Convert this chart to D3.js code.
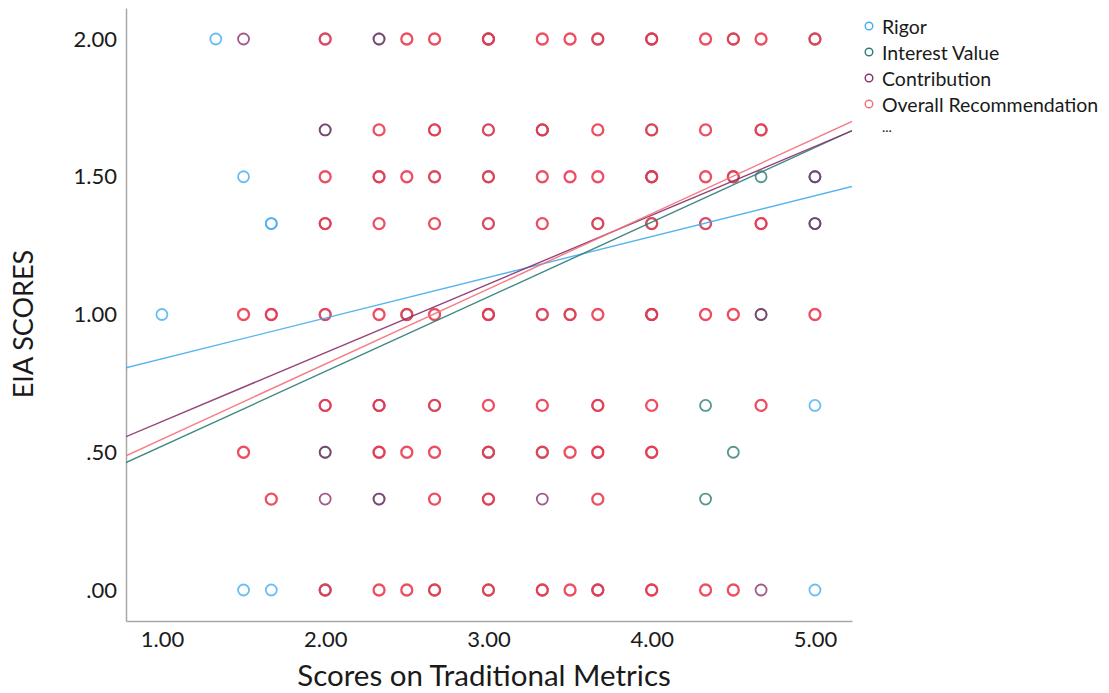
<!DOCTYPE html>
<html>
<head>
<meta charset="utf-8">
<script src="https://cdn.jsdelivr.net/npm/d3@7"></script>
<style>
  body { margin: 0; background: #fff; }
  text { font-family: Lato, "Open Sans", sans-serif; fill: #1a1a1a; }
</style>
</head>
<body>
<div id="container"></div>
<script>
// scatter of EIA scores vs traditional metric scores, one colour per metric,
// with a linear fit line per metric

const seriesNames = ["Rigor", "Interest Value", "Contribution", "Overall Recommendation"]

// [x, y] points
const rigor = [
  [1.33, 2], [1.5, 1.5], [1.67, 1.33], [1.67, 1.33], [1, 1], [5, 0.67], [1.5, 0], [1.67, 0], [5, 0],
  [2, 2], [3, 2], [2.67, 1.5], [3, 1.33], [3.33, 1], [4, 1.5], [2, 1], [3, 0.5],
  [2.33, 0.67], [4, 1], [3.67, 0], [3, 1.67], [4.33, 1.33], [2, 0], [5, 1.5], [5, 1.33]
]
const interest = [
  [4.67, 1.5], [4.33, 0.67], [4.5, 0.5], [4.33, 0.33], [4.67, 1], [5, 1.5], [5, 1.33], [2.33, 2],
  [2, 0.5], [2.33, 0.33], [2, 1.67], [3, 2], [3.67, 2], [4, 2], [4.5, 2], [5, 2], [3.33, 1.67],
  [4, 1.67], [3, 1.5], [4, 1.5], [4.5, 1.5], [3.67, 1.33], [4, 1.33], [2.5, 1], [3, 1], [3.5, 1],
  [4, 1], [2, 0], [2.67, 0.67], [3, 0.5], [2.67, 0], [3.33, 0.5], [3, 0]
]
const contribution = [
  [1.5, 2], [2.33, 2], [2, 1.67], [2, 0.5], [2, 0.33], [2.33, 0.33], [3.33, 0.33], [4.67, 0],
  [5, 1.5], [5, 1.33], [4.67, 1], [2.33, 1.5], [2.67, 1.67], [4.67, 1.67], [4.67, 1.33],
  [2, 1.33], [2, 0.67], [2.33, 0.67], [2.33, 0.5], [3.67, 0.67], [3.67, 0.5], [4, 0.5],
  [3, 0.33], [1.67, 1], [3.33, 0], [3.67, 0], [4, 0], [3, 2], [4, 2], [3.33, 1.67], [4, 1.5], [3, 1], [4, 1]
]
const overall = [
  [2, 2], [2.5, 2], [2.67, 2], [3, 2], [3.33, 2], [3.5, 2], [3.67, 2], [4, 2], [4.33, 2], [4.5, 2], [4.67, 2], [5, 2],
  [2.33, 1.67], [2.67, 1.67], [3, 1.67], [3.33, 1.67], [3.67, 1.67], [4, 1.67], [4.33, 1.67], [4.67, 1.67],
  [2, 1.5], [2.33, 1.5], [2.5, 1.5], [2.67, 1.5], [3, 1.5], [3.33, 1.5], [3.5, 1.5], [3.67, 1.5], [4, 1.5], [4.33, 1.5], [4.5, 1.5],
  [2, 1.33], [2.33, 1.33], [2.67, 1.33], [3, 1.33], [3.33, 1.33], [3.67, 1.33], [4, 1.33], [4.33, 1.33], [4.67, 1.33],
  [1.5, 1], [1.67, 1], [2, 1], [2.33, 1], [2.5, 1], [2.67, 1], [3, 1], [3.33, 1], [3.5, 1], [3.67, 1], [4, 1], [4.33, 1], [4.5, 1], [5, 1],
  [2, 0.67], [2.33, 0.67], [2.67, 0.67], [3, 0.67], [3.33, 0.67], [3.67, 0.67], [4, 0.67], [4.67, 0.67],
  [1.5, 0.5], [2.33, 0.5], [2.5, 0.5], [2.67, 0.5], [3, 0.5], [3.33, 0.5], [3.5, 0.5], [3.67, 0.5], [4, 0.5],
  [1.67, 0.33], [2.67, 0.33], [3, 0.33], [3.67, 0.33],
  [2, 0], [2.33, 0], [2.5, 0], [2.67, 0], [3, 0], [3.33, 0], [3.5, 0], [3.67, 0], [4, 0], [4.33, 0], [4.5, 0]
]

// linear fit lines, y = intercept + slope * x
const fitIntercept = [0.691, 0.251, 0.362, 0.274]
const fitSlope = [0.148, 0.271, 0.2496, 0.273]

const xTicks = [1, 2, 3, 4, 5]
const xTickLabels = ["1.00", "2.00", "3.00", "4.00", "5.00"]
const yTicks = [0, 0.5, 1, 1.5, 2]
const yTickLabels = [".00", ".50", "1.00", "1.50", "2.00"]

const colors = ["#45acf0", "#2b7c74", "#8a2f6b", "#ea3c50"]
const lineColors = ["#45acf0", "#2b7c74", "#8a2f6b", "#f47079"]
const pointOpacity = [0.8, 0.8, 0.8, 0.9]

// constants
const width = 1109,
  height = 693,
  margin = { top: 8, bottom: 72, left: 126, right: 257 }

const xScale = d3.scaleLinear()
  .domain([0.78, 5.227])
  .range([margin.left, width - margin.right])

const yScale = d3.scaleLinear()
  .domain([-0.1125, 2.1125])
  .range([height - margin.bottom, margin.top])

const svg = d3.select("#container")
  .append("svg")
  .attr("width", width)
  .attr("height", height)

svg.append("clipPath")
  .attr("id", "plot")
  .append("rect")
  .attr("x", margin.left)
  .attr("y", margin.top)
  .attr("width", width - margin.right - margin.left)
  .attr("height", height - margin.bottom - margin.top)

// axes
const xAxisGroup = svg.append("g")
  .attr("transform", `translate(0, ${height - margin.bottom})`)
  .call(d3.axisBottom(xScale)
    .tickValues(xTicks)
    .tickFormat((d, i) => xTickLabels[i])
    .tickSize(0)
    .tickPadding(10))

const yAxisGroup = svg.append("g")
  .attr("transform", `translate(${margin.left}, 0)`)
  .call(d3.axisLeft(yScale)
    .tickValues(yTicks)
    .tickFormat((d, i) => yTickLabels[i])
    .tickSize(0)
    .tickPadding(9))

svg.selectAll(".domain")
  .attr("stroke", "#a8a8a8")
  .attr("stroke-width", 1.5)

svg.selectAll(".tick text")
  .attr("font-family", "Lato, sans-serif")
  .attr("font-size", 22)
  .attr("fill", "#1a1a1a")

svg.append("text")
  .attr("x", 484)
  .attr("y", 686)
  .attr("text-anchor", "middle")
  .attr("font-size", 29.5)
  .text("Scores on Traditional Metrics")

svg.append("text")
  .attr("transform", `translate(${33}, ${324}) rotate(-90)`)
  .attr("text-anchor", "middle")
  .attr("font-size", 27)
  .text("EIA SCORES")

// points
const allSeries = [rigor, interest, contribution, overall]
const plot = svg.append("g").attr("clip-path", "url(#plot)")

allSeries.forEach((pts, i) => {
  plot.append("g")
    .selectAll("circle")
    .data(pts)
    .join("circle")
    .attr("cx", d => xScale(d[0]))
    .attr("cy", d => yScale(d[1]))
    .attr("r", 5.5)
    .attr("fill", "none")
    .attr("stroke", colors[i])
    .attr("stroke-opacity", pointOpacity[i])
    .attr("stroke-width", i === 3 ? 2.3 : 1.8)
})

// fit lines
const lineGen = d3.line()
  .x(d => xScale(d[0]))
  .y(d => yScale(d[1]))

fitIntercept.forEach((b, i) => {
  const xs = xScale.domain()
  plot.append("path")
    .datum(xs.map(x => [x, b + fitSlope[i] * x]))
    .attr("d", lineGen)
    .attr("fill", "none")
    .attr("stroke", lineColors[i])
    .attr("stroke-opacity", 0.9)
    .attr("stroke-width", 1.4)
})

// legend
const legend = svg.append("g")
  .attr("transform", `translate(${869}, ${26})`)

seriesNames.forEach((name, i) => {
  legend.append("circle")
    .attr("cx", 0)
    .attr("cy", i * 26)
    .attr("r", 3.8)
    .attr("fill", "none")
    .attr("stroke", lineColors[i])
    .attr("stroke-width", 1.4)
  legend.append("text")
    .attr("x", 13)
    .attr("y", i * 26 + 1)
    .attr("dy", "0.35em")
    .attr("font-size", 19.5)
    .text(name)
})

legend.append("text")
  .attr("x", 13)
  .attr("y", 4 * 26 - 3)
  .attr("dy", "0.35em")
  .attr("font-size", 14)
  .text("...")
</script>
</body>
</html>
